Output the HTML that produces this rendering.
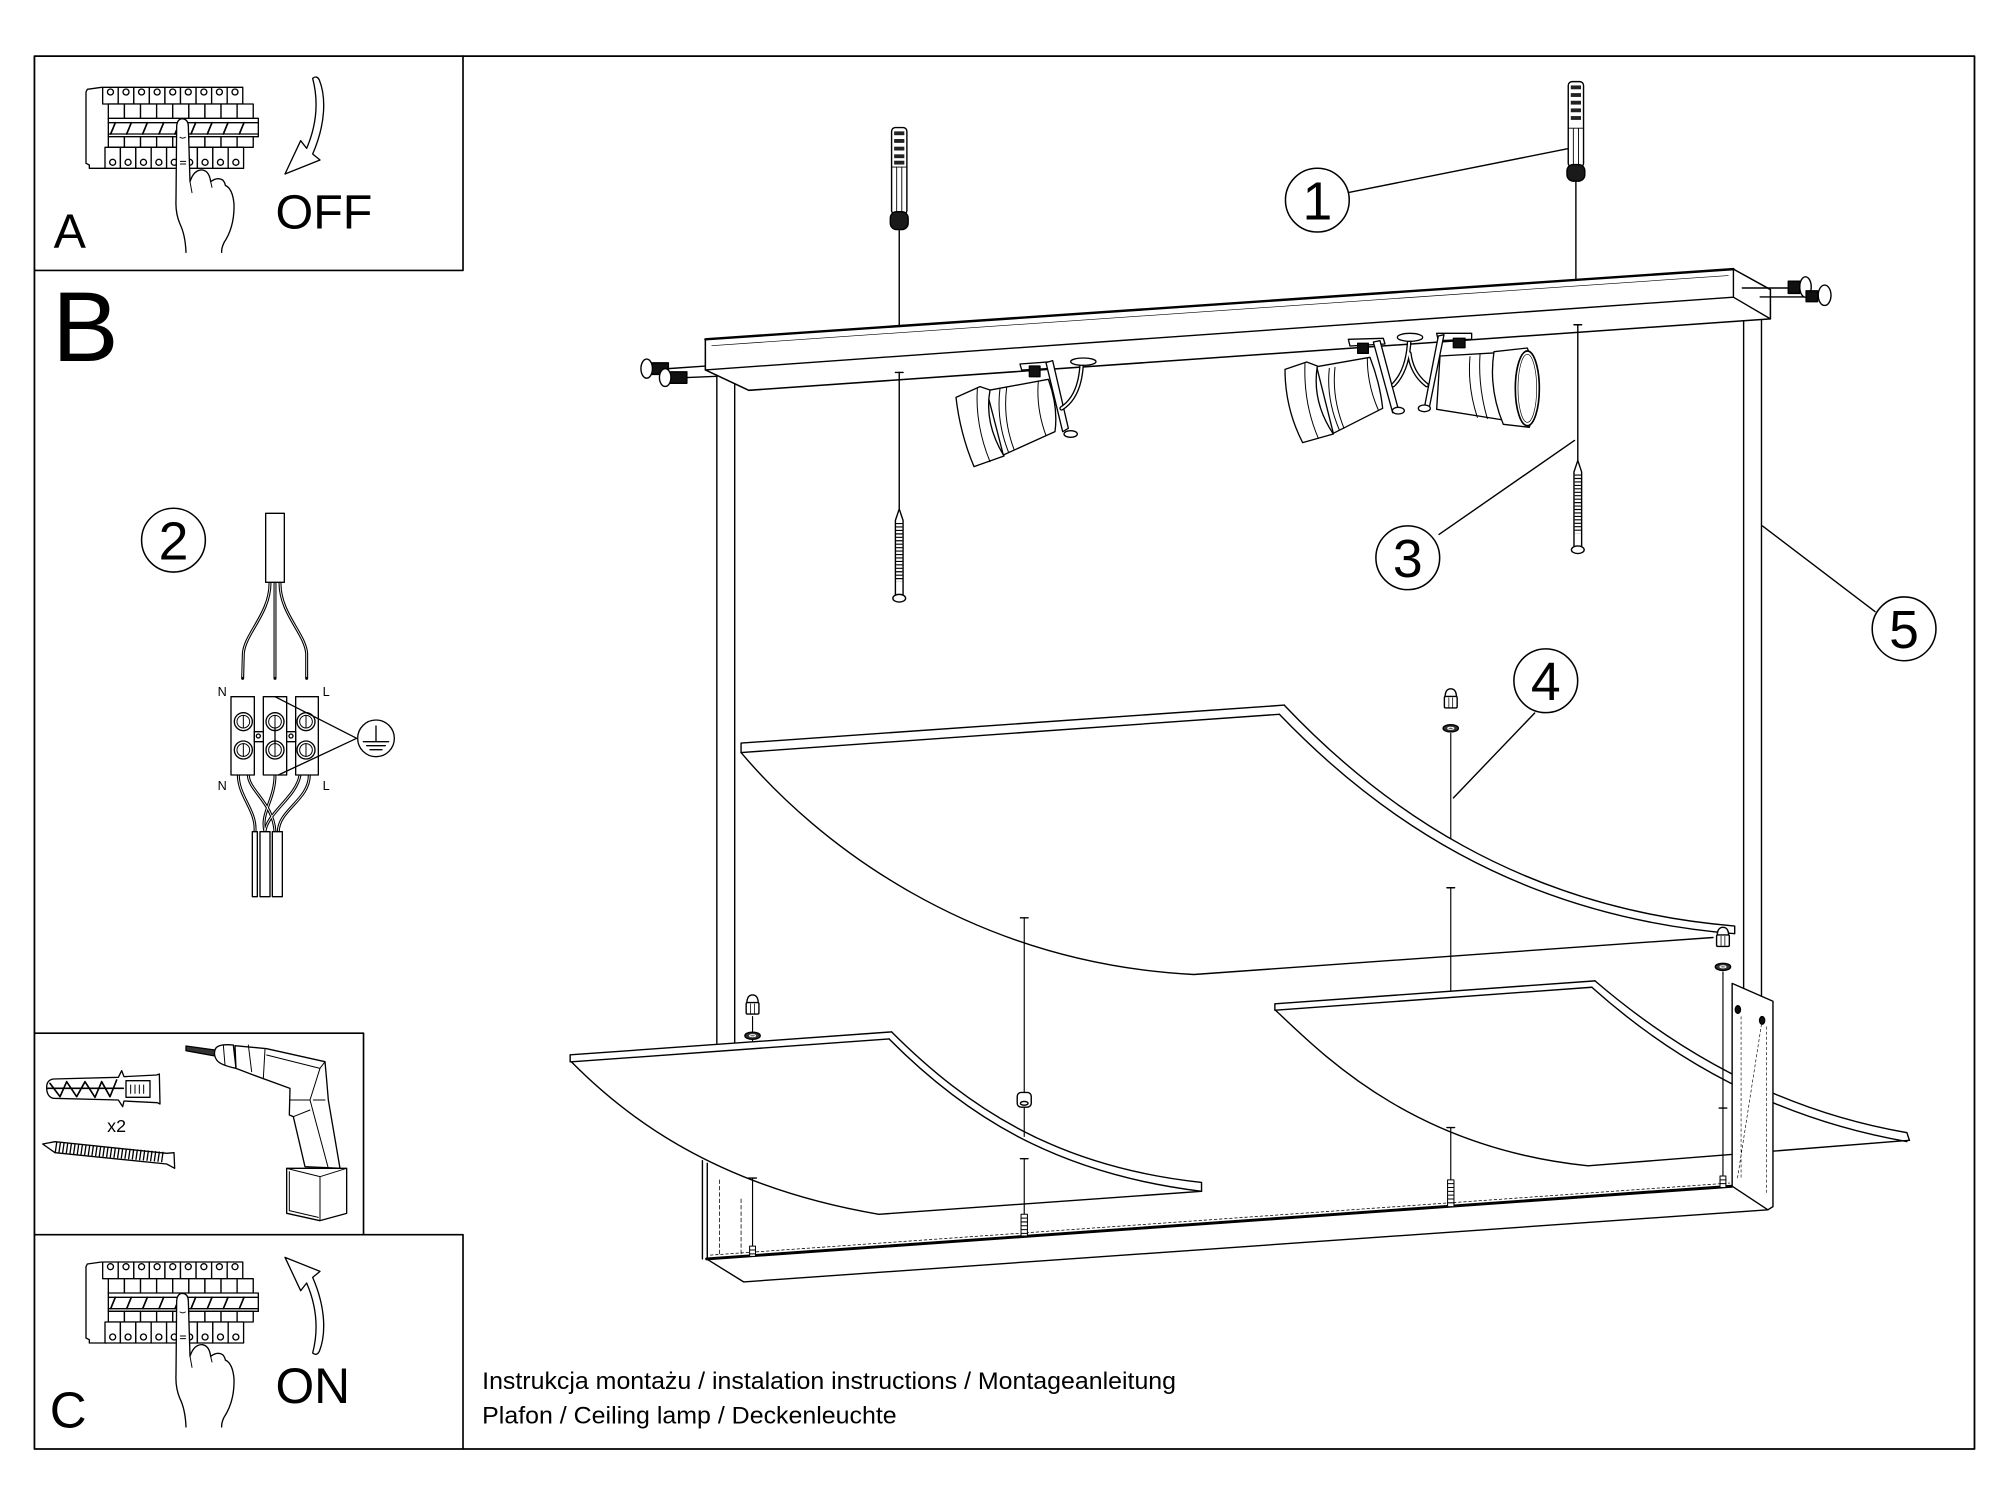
<!DOCTYPE html>
<html><head><meta charset="utf-8"><style>
html,body{margin:0;padding:0;background:#fff;}
svg{display:block;}
.t{font-family:"Liberation Sans",Arial,sans-serif;fill:#000;stroke:none;}
</style></head><body>
<svg xmlns="http://www.w3.org/2000/svg" xmlns:xlink="http://www.w3.org/1999/xlink" width="2000" height="1500" viewBox="0 0 2000 1500">
<rect x="0" y="0" width="2000" height="1500" fill="#fff"/>

<!-- ===== MAIN (display coords) ===== -->
<g transform="scale(1.27551)" fill="none" stroke="#000" stroke-width="1.1" stroke-linecap="round" stroke-linejoin="round">
  <!-- frames -->
  <rect x="27" y="44" width="1521" height="1092" stroke-width="1.4"/>
  <polyline points="27,212 363,212 363,44" stroke-width="1.3"/>
  <polyline points="27,810 285,810 285,968" stroke-width="1.3"/>
  <polyline points="27,968 363,968 363,1136" stroke-width="1.3"/>

  <!-- letters -->
  <text class="t" x="42" y="194" font-size="38">A</text>
  <text class="t" x="216" y="179" font-size="38">OFF</text>
  <text class="t" x="41" y="283" font-size="78">B</text>
  <text class="t" x="39" y="1119" font-size="40">C</text>
  <text class="t" x="216" y="1100" font-size="39">ON</text>
  <text class="t" x="84" y="887.5" font-size="14">x2</text>
  <text class="t" x="378" y="1089" font-size="18.5" textLength="544" lengthAdjust="spacingAndGlyphs">Instrukcja montażu / instalation instructions / Montageanleitung</text>
  <text class="t" x="378" y="1116" font-size="18.5" textLength="325" lengthAdjust="spacingAndGlyphs">Plafon / Ceiling lamp / Deckenleuchte</text>

  <!-- number circles -->
  <g stroke-width="1.2">
    <circle cx="1032.8" cy="156.9" r="25"/>
    <circle cx="136" cy="423.5" r="25"/>
    <circle cx="1103.7" cy="437.3" r="25"/>
    <circle cx="1211.9" cy="533.7" r="25"/>
    <circle cx="1492.8" cy="493" r="25"/>
  </g>
  <g class="t" font-size="42" text-anchor="middle">
    <text x="1032.8" y="172">1</text>
    <text x="136" y="438.5">2</text>
    <text x="1103.7" y="452.3">3</text>
    <text x="1211.9" y="548.7">4</text>
    <text x="1492.8" y="508">5</text>
  </g>
  <!-- leaders -->
  <path d="M1058 150.8L1236 115.2M1128.2 419L1234.4 345.3M1203.2 559L1139.5 625.5M1470 479.5L1381.9 412.4"/>

  <!-- legs -->
  <path d="M562 294V818M576 301V817"/>
  <path d="M1367 226V775M1381 233V781"/>

  <!-- top bar -->
  <path d="M553 266L1359 211L1388 227L1388 250L587 306L553 290Z" fill="#fff" stroke-width="1.2"/>
  <path d="M553 290L1359 233L1388 250M1359 211L1359 233"/>
  <path d="M553 266L1359 211" stroke-width="1.9"/>
  <path d="M558 271L1355 216" stroke-width="0.5"/>

  <!-- side screws left -->
  <path d="M524 289L553 287M538 296L562 295"/>
  <rect x="511" y="284.5" width="13" height="9" fill="#111"/>
  <ellipse cx="507" cy="289" rx="4.5" ry="7.5" fill="#fff"/>
  <rect x="525.5" y="291.5" width="13" height="9" fill="#111"/>
  <ellipse cx="521.5" cy="296" rx="4.5" ry="7" fill="#fff"/>
  <!-- side screws right -->
  <path d="M1366 225.8H1402M1380 232.8H1416"/>
  <rect x="1402" y="220.5" width="9" height="9.5" fill="#111"/>
  <ellipse cx="1415.5" cy="225" rx="4.5" ry="8" fill="#fff"/>
  <rect x="1416" y="228" width="9" height="8.5" fill="#111"/>
  <ellipse cx="1430.5" cy="231.5" rx="5" ry="8" fill="#fff"/>

  <!-- dowels -->
  <path d="M705 180V256M1235.5 141.5V218.5"/>
  <g>
    <rect x="699" y="100" width="12" height="68" rx="3" fill="#fff"/>
    <path d="M703 131V167M707 131V167M699 131H711" stroke-width="0.7"/>
    <g fill="#222" stroke="none">
      <rect x="701" y="103" width="8" height="3"/><rect x="701" y="109" width="8" height="3"/>
      <rect x="701" y="115" width="8" height="3"/><rect x="701" y="121" width="8" height="3"/>
      <rect x="701" y="126" width="8" height="3"/>
    </g>
    <rect x="698" y="166" width="14" height="14" rx="5" fill="#1a1a1a"/>
  </g>
  <g>
    <rect x="1229.5" y="64" width="12" height="67" rx="3" fill="#fff"/>
    <path d="M1233.5 100.5V129M1237.5 100.5V129M1229.5 100.5H1241.5" stroke-width="0.7"/>
    <g fill="#222" stroke="none">
      <rect x="1231.5" y="67" width="8" height="3"/><rect x="1231.5" y="73" width="8" height="3"/>
      <rect x="1231.5" y="79" width="8" height="3"/><rect x="1231.5" y="85" width="8" height="3"/>
      <rect x="1231.5" y="91" width="8" height="3"/>
    </g>
    <rect x="1228.5" y="129" width="14" height="13" rx="5" fill="#1a1a1a"/>
  </g>

  <!-- lower screws under bar -->
  <path d="M702 292h6M1234 254.6h6"/>
  <path d="M705 292V401M1237 254.6V363"/>
  <path d="M705 399L708 408V468H702V408Z" fill="#fff"/>
  <path d="M705 410V456" stroke-width="5" stroke-dasharray="0.9 1.8" stroke-linecap="butt"/>
  <ellipse cx="705" cy="469" rx="5" ry="3" fill="#fff"/>
  <path d="M1237 361L1240 370V430H1234V370Z" fill="#fff"/>
  <path d="M1237 372V418" stroke-width="5" stroke-dasharray="0.9 1.8" stroke-linecap="butt"/>
  <ellipse cx="1237" cy="431" rx="5" ry="3" fill="#fff"/>

  <!-- bottom bar -->
  <path d="M550.7 910V987M554.5 912V987"/>
  <path d="M564 925V983M581 940V985" stroke-width="0.6" stroke-dasharray="3 2"/>
  <path d="M554 987L1358 930" stroke-width="2.3"/>
  <path d="M557 984L1356 927.5" stroke-width="0.6" stroke-dasharray="2 2"/>
  <path d="M583 1005L1386 948.5M554 987L583 1005"/>

  <!-- upper shade -->
  <path d="M581 582.6L1007 552.8M581 590L1003 560M581 582.6V590"/>
  <path d="M581 590C640 660 760 755 936 764L1343 735"/>
  <path d="M1007 553C1080 630 1190 712 1360 726M1003 560C1076 636 1186 718 1360 732M1360 726V732"/>

  <!-- lower-left shade -->
  <path d="M447 827L699 809M448 832.5L697 814.5M447 827V832.5"/>
  <path d="M448 832.5C490 875 560 930 689 952L942 934"/>
  <path d="M699 809C760 870 830 915 942 927M697 814.5C757 875 828 920 942 934M942 927V934"/>

  <!-- lower-right shade -->
  <path d="M999.5 787L1250.5 769M1000 792L1248 774M999.5 787V792"/>
  <path d="M1000 792C1040 830 1110 900 1245 914L1497 894"/>
  <path d="M1250.5 769C1310 820 1390 870 1495 888M1248 774C1306 826 1386 876 1495 895M1495 888L1497 894"/>

  <!-- right plate -->
  <path d="M1358 771L1390 785L1390 946L1386 948.5L1358 930Z" fill="#fff"/>
  <path d="M1365 797V925M1385 805V935M1381 803L1362 925" stroke-width="0.5" stroke-dasharray="2 2"/>
  <ellipse cx="1362.5" cy="791.5" rx="2" ry="3" fill="#111"/>
  <ellipse cx="1381.5" cy="800" rx="2" ry="3" fill="#111"/>

  <!-- vertical assembly lines + ticks -->
  <path d="M800 719.6h6M800 908.4h6M587 923.6h6M1134.4 696h6M1134.4 884h6M1347.8 868.7h6"/>
  <path d="M803 719.6V856.5M803 868V891M803 908.4V952M590 797V816M590 923.6V977M1137.4 575V657M1137.4 696V777M1137.4 884V925M1350.8 762V922" stroke-width="0.9"/>
  <!-- spacer -->
  <rect x="797.5" y="856.5" width="11" height="11.5" rx="3" fill="#fff"/>
  <ellipse cx="803" cy="865" rx="3" ry="1.5"/>

  <!-- nuts and washers -->
  <g fill="#fff">
    <path d="M585.5 787Q585.5 780 590 780Q594.5 780 594.5 787Z"/>
    <rect x="585" y="786" width="10" height="9" rx="1"/>
    <path d="M588.5 787V795M591.5 787V795" stroke-width="0.6"/>
    <ellipse cx="590" cy="812" rx="6" ry="2.8" fill="#333"/>
    <path d="M1132.9 547Q1132.9 540 1137.4 540Q1141.9 540 1141.9 547Z"/>
    <rect x="1132.4" y="546" width="10" height="9" rx="1"/>
    <path d="M1135.9 547V555M1138.9 547V555" stroke-width="0.6"/>
    <ellipse cx="1137.4" cy="571" rx="6" ry="2.8" fill="#333"/>
    <path d="M1346.3 734Q1346.3 727 1350.8 727Q1355.3 727 1355.3 734Z"/>
    <rect x="1345.8" y="733" width="10" height="9" rx="1"/>
    <path d="M1349.3 734V742M1352.3 734V742" stroke-width="0.6"/>
    <ellipse cx="1350.8" cy="758" rx="6" ry="2.8" fill="#333"/>
  </g>
  <g stroke="#fff" stroke-width="0.8">
    <ellipse cx="590" cy="812" rx="2.4" ry="0.8"/>
    <ellipse cx="1137.4" cy="571" rx="2.4" ry="0.8"/>
    <ellipse cx="1350.8" cy="758" rx="2.4" ry="0.8"/>
  </g>

  <!-- small threaded screws -->
  <g fill="#fff" stroke-width="0.8">
    <rect x="587.7" y="977" width="4.6" height="8"/>
    <path d="M587.7 980H592.3M587.7 983H592.3"/>
    <rect x="800.5" y="952" width="5" height="17"/>
    <path d="M800.5 955H805.5M800.5 958H805.5M800.5 961H805.5M800.5 964H805.5M800.5 967H805.5"/>
    <rect x="1134.9" y="925" width="5" height="21"/>
    <path d="M1134.9 928H1139.9M1134.9 931H1139.9M1134.9 934H1139.9M1134.9 937H1139.9M1134.9 940H1139.9M1134.9 943H1139.9"/>
    <rect x="1348.5" y="922" width="4.6" height="9"/>
    <path d="M1348.5 925H1353.1M1348.5 928H1353.1"/>
  </g>
</g>

<!-- ===== LEFT SPOT (zoom coords) ===== -->
<g transform="translate(940,340) scale(0.33333)" fill="#fff" stroke="#000" stroke-width="4" stroke-linejoin="round" stroke-linecap="round">
  <path d="M140 152L325 118Q355 200 345 275L190 345Z"/>
  <path d="M180 145Q168 240 205 335M200 142Q188 238 222 328M295 124Q288 205 318 287" fill="none" stroke-width="3"/>
  <path d="M48 172L120 140L150 150Q132 250 192 348L102 380Q60 280 48 172Z"/>
  <path d="M112 145Q105 255 150 365" fill="none" stroke-width="3"/>
  <path d="M240 72L335 65L340 85L245 90Z"/>
  <path d="M318 68L338 62L385 265L368 275Z"/>
  <ellipse cx="392" cy="282" rx="20" ry="10"/>
  <rect x="268" y="78" width="32" height="32" fill="#111"/>
  <path d="M365 205Q420 170 425 72" fill="none" stroke-width="14"/>
  <path d="M365 205Q420 170 425 72" fill="none" stroke="#fff" stroke-width="6"/>
  <ellipse cx="430" cy="65" rx="38" ry="11"/>
</g>

<!-- ===== PAIR SPOTS ===== -->
<g transform="translate(1270,320) scale(0.33333)" fill="#fff" stroke="#000" stroke-width="4" stroke-linejoin="round" stroke-linecap="round">
  <path d="M140 140L300 112Q330 190 338 265L190 340Z"/>
  <path d="M178 145Q168 235 208 330M195 142Q185 232 222 325M292 116Q292 195 325 270" fill="none" stroke-width="3"/>
  <path d="M45 148L110 126L142 138Q125 245 190 342L98 368Q45 265 45 148Z"/>
  <path d="M105 130Q100 250 145 355" fill="none" stroke-width="3"/>
  <path d="M235 58L340 55L345 72L240 78Z"/>
  <path d="M310 66L330 62L385 268L368 278Z"/>
  <ellipse cx="385" cy="272" rx="18" ry="10"/>
  <rect x="263" y="70" width="32" height="30" fill="#111"/>
  <path d="M370 195Q415 150 418 55M418 100Q425 160 470 195" fill="none" stroke-width="14"/>
  <path d="M370 195Q415 150 418 55M418 100Q425 160 470 195" fill="none" stroke="#fff" stroke-width="6"/>
  <ellipse cx="420" cy="52" rx="38" ry="12"/>
  <!-- right spot -->
  <path d="M510 108L685 98L700 300L500 268Z"/>
  <path d="M600 110Q592 200 622 292M630 104Q624 200 652 296" fill="none" stroke-width="3"/>
  <path d="M500 40L605 40L605 58L505 62Z"/>
  <path d="M505 48L522 44L478 262L462 268Z"/>
  <ellipse cx="463" cy="265" rx="18" ry="10"/>
  <rect x="550" y="55" width="35" height="28" fill="#111"/>
  <path d="M672 95L772 84Q818 200 778 322L700 313Q655 205 672 95Z"/>
  <ellipse cx="772" cy="205" rx="36" ry="112" stroke-width="5"/>
  <ellipse cx="772" cy="205" rx="28" ry="102" fill="none" stroke-width="2"/>
</g>

<!-- ===== PANEL A (zoom1 coords) ===== -->
<g transform="scale(0.33333)" fill="#fff" stroke="#000" stroke-width="4" stroke-linejoin="round" stroke-linecap="round">
  <g id="brk">
    <path d="M305 262L262 268L258 276L258 490L268 495L268 505L320 505" fill="none"/>
    <g>
      <rect x="308" y="262" width="46.7" height="50"/><rect x="354.7" y="262" width="46.7" height="50"/>
      <rect x="401.4" y="262" width="46.7" height="50"/><rect x="448.1" y="262" width="46.7" height="50"/>
      <rect x="494.8" y="262" width="46.7" height="50"/><rect x="541.5" y="262" width="46.7" height="50"/>
      <rect x="588.2" y="262" width="46.7" height="50"/><rect x="634.9" y="262" width="46.7" height="50"/>
      <rect x="681.6" y="262" width="46.7" height="50"/>
    </g>
    <g>
      <circle cx="331.4" cy="276" r="9"/><circle cx="378" cy="276" r="9"/><circle cx="424.7" cy="276" r="9"/>
      <circle cx="471.4" cy="276" r="9"/><circle cx="518.2" cy="276" r="9"/><circle cx="564.8" cy="276" r="9"/>
      <circle cx="611.6" cy="276" r="9"/><circle cx="658.2" cy="276" r="9"/><circle cx="705" cy="276" r="9"/>
    </g>
    <g>
      <rect x="325" y="312" width="48.3" height="45"/><rect x="373.3" y="312" width="48.3" height="45"/>
      <rect x="421.6" y="312" width="48.3" height="45"/><rect x="469.9" y="312" width="48.3" height="45"/>
      <rect x="518.2" y="312" width="48.3" height="45"/><rect x="566.5" y="312" width="48.3" height="45"/>
      <rect x="614.8" y="312" width="48.3" height="45"/><rect x="663.1" y="312" width="48.3" height="45"/>
      <rect x="711.4" y="312" width="48.3" height="45"/>
    </g>
    <rect x="325" y="355" width="450" height="55"/>
    <path d="M325 368H775M325 402H775" fill="none"/>
    <path d="M332 402L346 368M380 402L394 368M428 402L442 368M477 402L491 368M525 402L539 368M573 402L587 368M622 402L636 368M670 402L684 368M718 402L732 368" fill="none" stroke-width="5"/>
    <g>
      <rect x="325" y="410" width="48.3" height="32"/><rect x="373.3" y="410" width="48.3" height="32"/>
      <rect x="421.6" y="410" width="48.3" height="32"/><rect x="469.9" y="410" width="48.3" height="32"/>
      <rect x="518.2" y="410" width="48.3" height="32"/><rect x="566.5" y="410" width="48.3" height="32"/>
      <rect x="614.8" y="410" width="48.3" height="32"/><rect x="663.1" y="410" width="48.3" height="32"/>
      <rect x="711.4" y="410" width="48.3" height="32"/>
    </g>
    <g>
      <rect x="315" y="442" width="46.2" height="63"/><rect x="361.2" y="442" width="46.2" height="63"/>
      <rect x="407.4" y="442" width="46.2" height="63"/><rect x="453.6" y="442" width="46.2" height="63"/>
      <rect x="499.8" y="442" width="46.2" height="63"/><rect x="546" y="442" width="46.2" height="63"/>
      <rect x="592.2" y="442" width="46.2" height="63"/><rect x="638.4" y="442" width="46.2" height="63"/>
      <rect x="684.6" y="442" width="46.2" height="63"/>
    </g>
    <g>
      <circle cx="338" cy="487" r="9"/><circle cx="384.2" cy="487" r="9"/><circle cx="430.4" cy="487" r="9"/>
      <circle cx="476.6" cy="487" r="9"/><circle cx="522.8" cy="487" r="9"/><circle cx="569" cy="487" r="9"/>
      <circle cx="615.2" cy="487" r="9"/><circle cx="661.4" cy="487" r="9"/><circle cx="707.6" cy="487" r="9"/>
    </g>
    <!-- hand -->
    <path d="M558 757Q556 705 540 672Q526 640 528 600L530 378Q532 356 548 356Q564 358 565 378L570 545Q582 508 608 510Q628 514 632 545Q652 530 668 540Q675 548 676 556Q698 566 702 612Q704 680 672 728Q664 745 665 757" stroke="none"/>
    <path d="M558 757Q556 705 540 672Q526 640 528 600L530 378Q532 356 548 356Q564 358 565 378L570 545Q582 508 608 510Q628 514 632 545Q652 530 668 540Q675 548 676 556Q698 566 702 612Q704 680 672 728Q664 745 665 757" fill="none"/>
    <path d="M540 412Q548 417 556 412M541 484H557M541 492H557M570 545L576 578M632 545L636 562" fill="none" stroke-width="3"/>
  </g>
  <path d="M938 235Q950 225 958 240C978 290 978 370 938 462L960 480L855 522L902 422L920 445C952 370 955 300 938 235Z"/>
</g>

<!-- ===== PANEL C + DRILL (zoom2 coords) ===== -->
<g transform="translate(0,1000) scale(0.33333)" fill="#fff" stroke="#000" stroke-width="4" stroke-linejoin="round" stroke-linecap="round">
  <use xlink:href="#brk" href="#brk" transform="translate(0,524)"/>
  <path transform="translate(0,1294) scale(1,-1)" d="M938 235Q950 225 958 240C978 290 978 370 938 462L960 480L855 522L902 422L920 445C952 370 955 300 938 235Z"/>

  <!-- wall plug -->
  <path d="M140 262Q140 240 160 237L355 232L365 212L372 230L470 225L478 222L480 312L472 308L372 303L368 320L355 300L160 295Q140 290 140 262Z"/>
  <path d="M150 250L180 290L200 245L230 290L255 245L285 292L305 245L330 290L350 240M142 265H370" fill="none" stroke-width="5"/>
  <rect x="378" y="242" width="72" height="50"/>
  <path d="M392 255V280M405 255V280M418 255V280M431 255V280" fill="none" stroke-width="3"/>
  <!-- screw -->
  <path d="M128 432L165 425L500 460L522 458L524 505L500 492L165 458Z"/>
  <path d="M170 428l-4 28m15 -27l-4 28m15 -27l-4 28m15 -27l-4 28m15 -27l-4 28m15 -27l-4 28m15 -27l-4 28m15 -27l-4 28m15 -27l-4 28m15 -27l-4 28m15 -27l-4 28m15 -27l-4 28m15 -27l-4 28m15 -27l-4 28m15 -27l-4 28m15 -27l-4 28m15 -27l-4 28m15 -27l-4 28m15 -27l-4 28m15 -27l-4 28m15 -27l-4 28m15 -27l-4 28m15 -27l-4 28m15 -27l-4 28m15 -27l-4 28m15 -27l-4 28m15 -27l-4 28m15 -27l-4 28m15 -27l-4 28m15 -27l-4 28" fill="none" stroke-width="4"/>
  <!-- drill -->
  <path d="M558 138L645 150L645 168L558 152Z" fill="#333"/>
  <path d="M645 150Q650 130 700 135L708 205Q660 195 650 180Q640 165 645 150Z"/>
  <path d="M670 135L675 195" fill="none" stroke-width="3"/>
  <path d="M705 137L800 146L975 185L980 240L985 300L1020 505L915 500L880 350L868 345L870 265L760 225L708 205Z"/>
  <path d="M745 135L755 215M795 148L790 235M800 165L960 205L975 185M960 205L930 300L870 300M930 300L985 505M940 300L975 300M880 350L930 330" fill="none" stroke-width="3"/>
  <path d="M860 505L1040 505L1040 640L960 662L860 640Z"/>
  <path d="M860 505L960 530L1040 505M960 530V662M868 515V632L955 652" fill="none" stroke-width="3"/>
</g>

<!-- ===== WIRING (zoom3 coords) ===== -->
<g transform="translate(150,480) scale(0.33333)" fill="none" stroke="#000" stroke-width="4" stroke-linejoin="round" stroke-linecap="round">
  <rect x="347" y="100" width="56" height="207" fill="#fff"/>
  <g stroke-width="9">
    <path d="M360 310C360 400 285 460 280 520L278 595M375 310L375 595M390 310C390 400 465 460 470 520L470 595"/>
    <path d="M265 885C265 950 320 990 315 1055M295 885C295 930 370 970 375 1055M375 885C375 960 330 1000 345 1055M450 885C440 950 350 1000 345 1055M478 885C478 960 385 990 385 1055"/>
  </g>
  <g stroke="#fff" stroke-width="2.5">
    <path d="M360 310C360 400 285 460 280 520L278 590M375 310L375 590M390 310C390 400 465 460 470 520L470 590"/>
    <path d="M265 885C265 950 320 990 315 1055M295 885C295 930 370 970 375 1055M375 885C375 960 330 1000 345 1055M450 885C440 950 350 1000 345 1055M478 885C478 960 385 990 385 1055"/>
  </g>
  <rect x="307" y="1055" width="15" height="195" fill="#fff"/>
  <rect x="330" y="1055" width="30" height="195" fill="#fff"/>
  <rect x="367" y="1055" width="30" height="195" fill="#fff"/>
  <rect x="243" y="650" width="70" height="235" fill="#fff"/>
  <rect x="340" y="650" width="70" height="235" fill="#fff"/>
  <rect x="437" y="650" width="68" height="235" fill="#fff"/>
  <rect x="313" y="755" width="27" height="30" fill="#fff"/>
  <rect x="410" y="755" width="27" height="30" fill="#fff"/>
  <circle cx="325" cy="768" r="6"/><circle cx="423" cy="768" r="6"/>
  <g fill="#fff">
    <circle cx="280" cy="725" r="27"/><circle cx="375" cy="725" r="27"/><circle cx="468" cy="725" r="27"/>
    <circle cx="280" cy="810" r="27"/><circle cx="375" cy="810" r="27"/><circle cx="468" cy="810" r="27"/>
  </g>
  <g stroke-width="3">
    <circle cx="280" cy="725" r="19"/><circle cx="375" cy="725" r="19"/><circle cx="468" cy="725" r="19"/>
    <circle cx="280" cy="810" r="19"/><circle cx="375" cy="810" r="19"/><circle cx="468" cy="810" r="19"/>
    <path d="M280 706V744M375 706V744M468 706V744M280 791V829M375 791V829M468 791V829"/>
  </g>
  <path d="M375 650L620 775L385 885M375 745V790"/>
  <circle cx="678" cy="775" r="55" fill="#fff"/>
  <path d="M678 738V785M640 785H716M650 797H706M660 809H696"/>
  <g class="t" font-size="38">
    <text x="203" y="648">N</text><text x="518" y="648">L</text>
    <text x="203" y="930">N</text><text x="518" y="930">L</text>
  </g>
</g>
</svg>
</body></html>
